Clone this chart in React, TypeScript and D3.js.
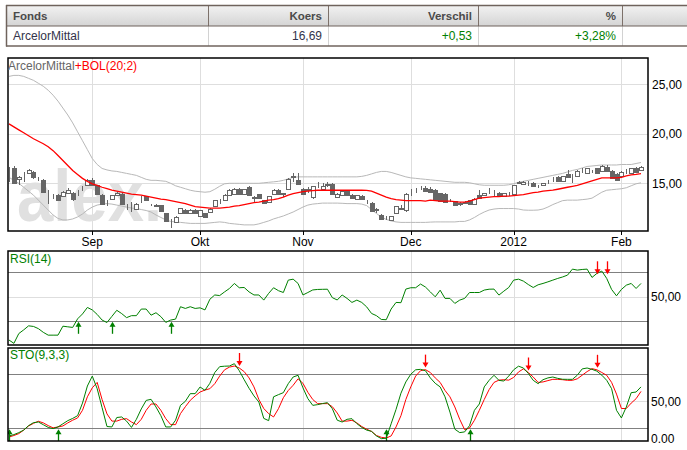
import React from 'react';
import * as d3 from 'd3';

// trading days from 9 Aug 2011 up to 7 Feb 2012
const N = 130;

const monthLabels = ['Sep', 'Okt', 'Nov', 'Dec', '2012', 'Feb'];
const monthIndex = [17, 39, 60, 82, 103, 125];

const priceTicks = [25, 20, 15];
const priceTickLabels = ['25,00', '20,00', '15,00'];

const tableHeads = ['Fonds', 'Koers', 'Verschil', '%'];
const tableRow = ['ArcelorMittal', '16,69', '+0,53', '+3,28%'];

const open = [
  16.2, 16.5, 15.4, 16.0, 16.0, 16.15, 15.55, 15.3, 14.05, 13.7,
  13.85, 13.75, 14.0, 14.05, 14.1, 14.5, 14.8, 15.35, 14.8, 13.85,
  13.0, 13.45, 13.8, 13.95, 12.6, 12.9, 12.45, 13.4, 13.7, 12.8,
  12.75, 12.8, 11.95, 11.25, 11.05, 11.95, 12.35, 12.0, 12.35, 11.7,
  11.95, 12.1, 12.7, 13.2, 13.35, 13.8, 13.9, 14.45, 13.9, 14.6,
  13.55, 13.9, 13.3, 13.1, 13.9, 14.35, 13.95, 14.45, 15.65, 15.35,
  14.45, 14.35, 13.6, 14.8, 14.45, 14.85, 14.95, 13.6, 13.8, 14.2,
  13.85, 13.45, 13.7, 13.2, 13.05, 12.35, 11.75, 11.55, 11.25, 11.95,
  12.45, 12.3, 14.1, 14.3, 14.6, 14.55, 14.45, 14.3, 14.0, 13.95,
  13.3, 13.2, 12.95, 13.05, 13.3, 12.95, 13.85, 13.8, 14.1, 14.1,
  14.0, 13.7, 13.95, 13.95, 15.0, 14.95, 14.95, 15.0, 14.7, 14.8,
  15.15, 15.35, 15.65, 15.25, 15.95, 15.65, 15.7, 16.3, 16.05, 16.15,
  16.5, 16.25, 16.65, 16.25, 15.95, 15.7, 16.15, 16.05, 16.5, 16.3,
];
const high = [
  16.6, 16.7, 15.75, 16.15, 16.45, 16.25, 15.65, 15.4, 14.3, 13.9,
  13.95, 14.2, 14.5, 14.15, 14.35, 14.7, 15.4, 15.5, 14.85, 13.9,
  13.3, 13.85, 14.15, 14.0, 12.9, 13.15, 13.05, 13.7, 13.75, 12.9,
  12.95, 12.85, 12.0, 11.4, 11.7, 12.55, 12.45, 12.4, 12.45, 12.35,
  12.0, 12.5, 13.35, 13.45, 13.9, 14.4, 14.5, 14.5, 14.45, 14.7,
  13.75, 13.95, 13.35, 13.75, 14.4, 14.45, 14.05, 15.5, 16.05, 16.0,
  14.5, 14.6, 14.75, 15.1, 15.0, 15.15, 15.05, 14.0, 14.25, 14.3,
  13.95, 13.85, 13.85, 13.35, 13.1, 12.55, 11.85, 11.7, 11.7, 12.75,
  12.8, 14.0, 14.4, 14.5, 14.75, 14.7, 14.6, 14.4, 14.05, 14.0,
  13.45, 13.25, 13.15, 13.25, 13.35, 13.5, 14.3, 14.05, 14.5, 14.35,
  14.1, 14.05, 14.15, 14.85, 15.25, 15.2, 15.2, 15.1, 14.85, 15.05,
  15.3, 15.6, 15.7, 15.75, 16.3, 15.9, 16.3, 16.5, 16.55, 16.3,
  16.55, 16.8, 16.8, 16.3, 16.0, 16.2, 16.4, 16.55, 16.6, 16.75,
];
const low = [
  15.1, 14.9, 14.8, 15.1, 15.9, 15.45, 15.2, 14.0, 12.95, 13.4,
  13.3, 13.6, 13.9, 13.2, 13.75, 14.2, 14.7, 14.8, 13.9, 12.9,
  12.7, 13.3, 13.7, 12.85, 12.3, 12.1, 12.3, 13.0, 13.25, 12.7,
  12.6, 12.15, 11.15, 10.45, 11.0, 11.9, 11.95, 11.9, 11.9, 11.65,
  11.5, 12.05, 12.65, 12.95, 13.3, 13.7, 13.85, 13.85, 13.85, 13.75,
  13.05, 13.5, 12.95, 13.05, 13.85, 13.9, 13.65, 14.4, 15.15, 14.9,
  13.9, 14.0, 13.4, 14.5, 14.4, 14.6, 13.9, 13.5, 13.75, 13.8,
  13.5, 13.4, 13.35, 12.95, 12.2, 12.0, 11.3, 11.3, 11.2, 11.9,
  12.3, 12.15, 13.75, 14.05, 14.3, 14.2, 14.05, 13.3, 13.15, 13.05,
  13.1, 12.75, 12.75, 12.9, 12.9, 12.9, 13.5, 13.7, 13.9, 13.75,
  13.65, 13.65, 13.7, 13.9, 14.9, 14.9, 14.75, 14.65, 14.5, 14.75,
  14.95, 15.1, 15.2, 15.2, 15.6, 15.0, 15.65, 16.0, 16.0, 16.0,
  15.95, 16.2, 16.2, 15.5, 15.3, 15.65, 15.9, 15.95, 16.1, 16.25,
];
const close = [
  16.25, 15.0, 15.6, 16.05, 16.3, 15.6, 15.5, 14.1, 14.0, 13.75,
  13.35, 14.1, 14.35, 13.45, 14.15, 14.55, 15.3, 14.85, 13.95, 12.95,
  13.05, 13.8, 14.05, 12.9, 12.65, 12.95, 12.95, 13.45, 13.3, 12.85,
  12.8, 12.2, 11.2, 11.3, 11.6, 12.5, 12.0, 12.35, 11.95, 12.3,
  11.6, 12.45, 13.3, 13.25, 13.8, 14.35, 14.45, 13.9, 14.4, 13.8,
  13.6, 13.55, 13.0, 13.7, 14.35, 13.95, 14.0, 15.45, 15.7, 14.95,
  13.95, 14.4, 14.7, 14.85, 14.7, 14.9, 13.95, 13.95, 14.2, 13.85,
  13.55, 13.8, 13.4, 13.25, 12.25, 12.4, 11.35, 11.6, 11.65, 12.7,
  12.5, 13.95, 14.15, 14.35, 14.65, 14.2, 14.1, 13.35, 13.2, 13.1,
  13.3, 12.8, 13.0, 13.1, 12.95, 13.45, 13.55, 14.0, 14.1, 14.15,
  13.7, 14.0, 13.95, 14.8, 15.15, 15.1, 14.95, 14.7, 14.7, 15.0,
  15.15, 15.35, 15.25, 15.7, 15.65, 15.65, 16.25, 16.3, 16.5, 16.15,
  16.0, 16.7, 16.25, 15.55, 15.35, 16.15, 16.15, 16.5, 16.16, 16.69,
];

// Bollinger (20;2)
const bolUpper = [
  25.8, 25.9, 25.9, 25.8, 25.6, 25.4, 25.1, 24.8, 24.4, 23.9,
  23.3, 22.6, 21.9, 21.1, 20.2, 19.3, 18.4, 17.5, 16.9, 16.5,
  16.35, 16.25, 16.2, 16.1, 16.0, 15.9, 15.8, 15.6, 15.4, 15.3,
  15.3, 15.25, 15.2, 15.0, 14.75, 14.6, 14.45, 14.3, 14.2, 14.15,
  14.1, 14.15, 14.4, 14.7, 14.95, 15.0, 15.0, 15.0, 15.0, 15.0,
  15.0, 15.0, 15.05, 15.1, 15.15, 15.2, 15.3, 15.45, 15.6, 15.65,
  15.65, 15.65, 15.65, 15.65, 15.65, 15.65, 15.65, 15.65, 15.65, 15.65,
  15.65, 15.65, 15.7, 15.8, 15.95, 16.1, 16.2, 16.2, 16.1, 15.95,
  15.8, 15.65, 15.55, 15.5, 15.45, 15.4, 15.35, 15.3, 15.25, 15.2,
  15.15, 15.1, 15.1, 15.1, 15.05, 14.95, 14.85, 14.8, 14.8, 14.8,
  14.8, 14.8, 14.85, 14.95, 15.1, 15.2, 15.3, 15.4, 15.5, 15.6,
  15.7, 15.8, 15.9, 16.0, 16.15, 16.3, 16.4, 16.55, 16.7, 16.75,
  16.8, 16.85, 16.85, 16.85, 16.85, 16.9, 16.9, 16.9, 17.0, 17.1,
];
const bolMiddle = [
  21.0, 20.7, 20.4, 20.1, 19.8, 19.5, 19.25, 19.0, 18.7, 18.3,
  17.8, 17.3, 16.8, 16.3, 15.9, 15.5, 15.2, 14.95, 14.8, 14.6,
  14.45, 14.3, 14.2, 14.1, 14.0, 13.9, 13.85, 13.8, 13.7, 13.6,
  13.5, 13.4, 13.35, 13.25, 13.15, 13.05, 12.95, 12.8, 12.65, 12.6,
  12.55, 12.5, 12.5, 12.5, 12.55, 12.6, 12.7, 12.75, 12.85, 12.95,
  13.05, 13.1, 13.2, 13.3, 13.35, 13.45, 13.6, 13.8, 13.95, 14.05,
  14.15, 14.2, 14.25, 14.3, 14.3, 14.3, 14.3, 14.3, 14.3, 14.3,
  14.3, 14.3, 14.3, 14.28, 14.2, 14.0, 13.8, 13.6, 13.45, 13.35,
  13.3, 13.25, 13.25, 13.25, 13.25, 13.2, 13.3, 13.25, 13.2, 13.2,
  13.2, 13.15, 13.1, 13.1, 13.2, 13.35, 13.5, 13.55, 13.6, 13.65,
  13.65, 13.7, 13.7, 13.75, 13.8, 13.85, 13.95, 14.05, 14.1, 14.2,
  14.25, 14.3, 14.4, 14.5, 14.6, 14.7, 14.8, 14.95, 15.1, 15.25,
  15.4, 15.55, 15.55, 15.55, 15.55, 15.6, 15.75, 15.85, 15.9, 15.98,
];
const bolLower = [
  15.6, 15.3, 15.0, 14.6, 14.2, 13.8, 13.3, 12.8, 12.3, 11.8,
  11.45, 11.3, 11.3, 11.4, 11.6, 11.9, 12.3, 12.6, 12.8, 12.9,
  12.95, 12.9, 12.8, 12.7, 12.6, 12.5, 12.45, 12.35, 12.25, 12.1,
  11.8, 11.55, 11.3, 11.15, 11.1, 11.05, 11.0, 10.95, 10.95, 10.95,
  10.95, 11.0, 11.05, 11.1, 11.05, 10.95, 10.9, 10.85, 10.8, 10.8,
  10.8, 10.9, 11.05, 11.2, 11.4, 11.55, 11.7, 11.9, 12.1, 12.35,
  12.6, 12.8, 12.9, 12.95, 13.0, 13.0, 13.0, 13.0, 12.98, 12.95,
  12.95, 12.95, 12.9, 12.75, 12.35, 11.95, 11.6, 11.35, 11.2, 11.1,
  11.05, 11.05, 11.05, 11.05, 11.05, 11.05, 11.08, 11.1, 11.1, 11.1,
  11.1, 11.1, 11.15, 11.15, 11.3, 11.55, 11.85, 12.1, 12.3, 12.4,
  12.45, 12.45, 12.45, 12.45, 12.4, 12.3, 12.28, 12.28, 12.3, 12.4,
  12.6, 12.85, 13.05, 13.25, 13.3, 13.3, 13.3, 13.35, 13.4, 13.5,
  13.8, 14.1, 14.3, 14.35, 14.4, 14.45, 14.55, 14.75, 14.95, 15.05,
];

// RSI(14)
const rsi = [
  14.7, 12, 20, 23, 26.3, 25.8, 24, 21, 18.7, 18.7,
  18.7, 26, 25.5, 25, 32, 36, 41.3, 39.3, 35.6, 31,
  29, 34, 39, 36.3, 33, 34.6, 34.6, 40, 40, 35,
  37, 33.8, 29.1, 31, 31.8, 41.9, 40.5, 41.9, 40.5, 41,
  39.3, 48, 51.5, 51, 54, 56.8, 60.9, 57.4, 57.6, 54,
  51.5, 51.5, 47.3, 52.8, 57.4, 55, 53.5, 63.6, 64.4, 60.9,
  51.5, 53.5, 55.6, 56, 56.1, 56.2, 49.3, 47.4, 51.5, 48.7,
  45.4, 47.3, 45.4, 41.8, 36.4, 34.6, 31.5, 31.3, 40, 45.4,
  45.2, 56.3, 57.4, 57.4, 60.4, 58, 54, 50, 55.4, 48.7,
  48.7, 44.6, 47.3, 48.7, 53.5, 53.5, 53.5, 55.5, 56.2, 56.3,
  51.4, 54.6, 57.6, 63.6, 64.4, 62.8, 60, 57.6, 59.8, 60.9,
  62.2, 63.6, 65, 66.2, 67.7, 72.6, 71.8, 72.3, 72.6, 65.8,
  69.1, 71, 65, 56, 50.8, 56, 59.5, 60.9, 56.8, 60.9,
];
const rsiBuy = [14, 21, 33];
const rsiSell = [120, 122];

// STO(9,3,3)
const stoK = [
  11.5, 13, 15.2, 18, 23, 26.3, 27, 24, 21, 19.6,
  21.5, 25, 28.5, 31, 34, 48, 67, 78, 64, 43,
  22, 21.5, 32, 32.6, 28, 21, 30, 41.5, 51, 52.2,
  43.7, 34, 21.5, 21.5, 29, 45.5, 50, 58.5, 58.5, 65.9,
  62.2, 70, 82, 88.5, 89, 89.2, 91.8, 84, 74, 64.5,
  56, 49.2, 31, 28.5, 55, 57.4, 59.6, 69.6, 77, 78.9,
  65, 53, 45.5, 46.3, 47.5, 48.5, 41.8, 29, 27, 30,
  30.7, 25.2, 21, 18, 16.6, 11.5, 8.5, 9, 25, 41,
  59, 71.5, 80, 85, 85.5, 84, 76, 70, 66, 55,
  38, 19, 15.2, 16, 23, 40, 47, 66, 73.3, 78.9,
  73.3, 72.5, 78, 85, 89, 87, 81, 73.3, 69.6, 74,
  76, 77, 75.5, 74.5, 74.4, 74.4, 79, 86, 87, 85.5,
  83.5, 79, 73.3, 64, 40, 31.5, 43.7, 59.6, 60.3, 66,
];
const stoD = [
  10.3, 12, 14.1, 18, 22.6, 25.5, 27.8, 26, 23, 20.5,
  21.5, 22.6, 26, 29, 31.5, 40, 55, 65, 71, 52,
  36, 28, 28, 30, 30.7, 27, 24.1, 30, 40, 47,
  47, 40, 30.7, 24.1, 24.1, 36.3, 44, 51.1, 56, 60.3,
  62.5, 64, 69.6, 78, 85, 88, 89.2, 87, 83, 76,
  66, 52, 42, 36.3, 32.6, 41.8, 54, 62, 67.8, 75,
  70, 60, 52, 47.4, 47.4, 47.4, 44, 37, 28, 28,
  28.9, 26, 22, 19, 16.5, 12, 10, 9.2, 11.5, 21.5,
  34, 52, 66, 78, 84, 85.2, 82, 76, 71, 62,
  55, 43.7, 30, 18.5, 20.3, 28.9, 40, 52, 63, 71,
  73.5, 74, 73.5, 76.5, 82.6, 86, 82, 77, 71, 71.5,
  73, 74.4, 74.4, 74, 73.3, 73.3, 75, 79, 83, 86.3,
  85, 82, 78.9, 71, 58, 42, 42, 48, 52.9, 61,
];
const stoBuy = [0, 10, 77, 94];
const stoSell = [47, 85, 106, 120];

const rsiTicks = [50];
const rsiTickLabels = ['50,00'];
const stoTicks = [50, 0];
const stoTickLabels = ['50,00', '0.00'];

const W = 687;
const H = 450;
const LEFT = 8;
const RIGHT = 648;
const MAIN = { top: 58, bottom: 231 };
const RSI = { top: 251, bottom: 345 };
const STO = { top: 348, bottom: 441 };

const FONT = '"Liberation Sans", Arial, sans-serif';
const GREEN = '#008000';
const RED = '#ff0000';
const CANDLE = '#666666';

const colEdges = [7, 208, 328, 478, 622];

const crisp = (v: number) => Math.round(v) + 0.5;

const UpArrow = ({ cx, tip }: { cx: number; tip: number }) => (
  <g>
    <line x1={cx} x2={cx} y1={tip + 3} y2={tip + 12} stroke={GREEN} strokeWidth={1.3} />
    <path d={`M${cx},${tip} L${cx - 3},${tip + 5} L${cx + 3},${tip + 5} Z`} fill={GREEN} />
  </g>
);

const DownArrow = ({ cx, tip }: { cx: number; tip: number }) => (
  <g>
    <line x1={cx} x2={cx} y1={tip - 13} y2={tip - 3} stroke={RED} strokeWidth={1.3} />
    <path d={`M${cx},${tip} L${cx - 3},${tip - 5} L${cx + 3},${tip - 5} Z`} fill={RED} />
  </g>
);

const App: React.FC = () => {
  const x = d3.scaleLinear().domain([0, N - 1]).range([9, 641]);
  const yMain = d3.scaleLinear().domain([15, 25]).range([183.3, 84.3]);
  const yRsi = d3.scaleLinear().domain([30, 70]).range([321.3, 272.3]);
  const ySto = d3.scaleLinear().domain([20, 80]).range([428.3, 374.3]);

  const lineOf = (scale: d3.ScaleLinear<number, number>) =>
    d3.line<number>().x((_, i) => x(i)).y(d => scale(d));

  const mainLine = lineOf(yMain);
  const rsiLine = lineOf(yRsi);
  const stoLine = lineOf(ySto);

  const vGrid = (top: number, bottom: number) =>
    monthIndex.map((mi, k) => (
      <line key={k} x1={crisp(x(mi))} x2={crisp(x(mi))} y1={top} y2={bottom} stroke="#dedede" />
    ));

  const candles = open.map((o, i) => {
    const c = close[i];
    const cx = Math.round(x(i));
    const top = Math.round(yMain(Math.max(o, c)));
    const bot = Math.round(yMain(Math.min(o, c)));
    const down = c < o;
    return (
      <g key={i}>
        <line x1={cx + 0.5} x2={cx + 0.5} y1={Math.round(yMain(high[i]))} y2={Math.round(yMain(low[i]))} stroke={CANDLE} />
        <rect
          x={cx - 1.5}
          y={top + 0.5}
          width={4}
          height={Math.max(bot - top, 0)}
          fill={down ? CANDLE : '#ffffff'}
          stroke={CANDLE}
        />
      </g>
    );
  });

  return (
    <svg
      width={W}
      height={H}
      style={{ position: 'absolute', left: 0, top: 0, background: '#fff' }}
      fontFamily={FONT}
    >
      <defs>
        <linearGradient id="hdr" x1="0" y1="0" x2="0" y2="1">
          <stop offset="0" stopColor="#f3f3f3" />
          <stop offset="1" stopColor="#d4d4d4" />
        </linearGradient>
        <clipPath id="clipMain">
          <rect x={LEFT} y={MAIN.top} width={RIGHT - LEFT} height={MAIN.bottom - MAIN.top} />
        </clipPath>
        <clipPath id="clipRsi">
          <rect x={LEFT} y={RSI.top} width={RIGHT - LEFT} height={RSI.bottom - RSI.top} />
        </clipPath>
        <clipPath id="clipSto">
          <rect x={LEFT} y={STO.top} width={RIGHT - LEFT} height={STO.bottom - STO.top} />
        </clipPath>
      </defs>

      {/* quote table */}
      <rect x={7} y={5} width={W} height={21} fill="url(#hdr)" />
      <rect x={7} y={26} width={W} height={20} fill="#fff" />
      {colEdges.slice(1).map((cx, k) => (
        <g key={k}>
          <line x1={cx + 0.5} x2={cx + 0.5} y1={5} y2={26} stroke="#7d716a" />
          <line x1={cx + 0.5} x2={cx + 0.5} y1={26} y2={46} stroke="#d2d2d2" />
        </g>
      ))}
      <line x1={6} x2={W} y1={5.5} y2={5.5} stroke="#6f635c" strokeWidth={1.5} />
      <line x1={6} x2={W} y1={26} y2={26} stroke="#6f635c" strokeWidth={1.2} />
      <line x1={6} x2={W} y1={46} y2={46} stroke="#6f635c" strokeWidth={1.5} />
      <line x1={6.5} x2={6.5} y1={5} y2={46.5} stroke="#6f635c" strokeWidth={1.5} />
      {tableHeads.map((t, k) => (
        <text
          key={k}
          x={k === 0 ? 13 : colEdges[k + 1] - 6}
          y={20}
          textAnchor={k === 0 ? 'start' : 'end'}
          fontSize={11.5}
          fontWeight="bold"
          fill="#4a4a4a"
        >
          {t}
        </text>
      ))}
      {tableRow.map((t, k) => (
        <text
          key={k}
          x={k === 0 ? 13 : colEdges[k + 1] - 6}
          y={40}
          textAnchor={k === 0 ? 'start' : 'end'}
          fontSize={12}
          fill={k >= 2 ? GREEN : '#33334a'}
        >
          {t}
        </text>
      ))}

      {/* main price panel */}
      {vGrid(MAIN.top, MAIN.bottom)}
      {priceTicks.map((v, k) => (
        <line key={k} x1={LEFT} x2={RIGHT} y1={crisp(yMain(v))} y2={crisp(yMain(v))} stroke="#dedede" />
      ))}
      <text
        x={17}
        y={221}
        fontSize={72}
        fontWeight="bold"
        fill="#e0e0e0"
        textLength={145}
        lengthAdjust="spacingAndGlyphs"
      >
        alex.
      </text>
      <g clipPath="url(#clipMain)">
        <path d={mainLine(bolUpper) || ''} fill="none" stroke="#b8b8b8" strokeWidth={1} />
        <path d={mainLine(bolLower) || ''} fill="none" stroke="#b8b8b8" strokeWidth={1} />
        <g shapeRendering="crispEdges">{candles}</g>
        <path d={mainLine(bolMiddle) || ''} fill="none" stroke={RED} strokeWidth={1.3} />
      </g>
      <rect x={LEFT} y={MAIN.top} width={RIGHT - LEFT} height={MAIN.bottom - MAIN.top} fill="none" stroke="#000" strokeWidth={1.5} />
      <text x={8} y={70} fontSize={12}>
        <tspan fill="#666">ArcelorMittal</tspan>
        <tspan fill={RED}>+BOL(20;2)</tspan>
      </text>
      {priceTicks.map((v, k) => (
        <text key={k} x={652} y={yMain(v)} dy="0.36em" fontSize={12} fill="#000">
          {priceTickLabels[k]}
        </text>
      ))}
      {monthIndex.map((mi, k) => (
        <g key={k}>
          <line x1={crisp(x(mi))} x2={crisp(x(mi))} y1={MAIN.bottom} y2={MAIN.bottom + 4} stroke="#000" />
          <text x={x(mi)} y={246} textAnchor="middle" fontSize={12} fill="#000">
            {monthLabels[k]}
          </text>
        </g>
      ))}

      {/* RSI panel */}
      {vGrid(RSI.top, RSI.bottom)}
      {rsiTicks.map((v, k) => (
        <line key={k} x1={LEFT} x2={RIGHT} y1={crisp(yRsi(v))} y2={crisp(yRsi(v))} stroke="#dedede" />
      ))}
      {[70, 30].map(v => (
        <line key={v} x1={LEFT} x2={RIGHT} y1={crisp(yRsi(v))} y2={crisp(yRsi(v))} stroke="#808080" strokeWidth={1.2} />
      ))}
      <g clipPath="url(#clipRsi)">
        <path d={rsiLine(rsi) || ''} fill="none" stroke={GREEN} strokeWidth={1} />
        {rsiBuy.map(i => (
          <UpArrow key={i} cx={crisp(x(i))} tip={yRsi(30) + 0.5} />
        ))}
        {rsiSell.map(i => (
          <DownArrow key={i} cx={crisp(x(i))} tip={yRsi(70) + 2} />
        ))}
      </g>
      <rect x={LEFT} y={RSI.top} width={RIGHT - LEFT} height={RSI.bottom - RSI.top} fill="none" stroke="#000" strokeWidth={1.5} />
      <text x={10} y={263} fontSize={12} fill={GREEN}>RSI(14)</text>
      {rsiTicks.map((v, k) => (
        <text key={k} x={651} y={yRsi(v)} dy="0.36em" fontSize={12} fill="#000">
          {rsiTickLabels[k]}
        </text>
      ))}

      {/* STO panel */}
      {vGrid(STO.top, STO.bottom)}
      <line x1={LEFT} x2={RIGHT} y1={crisp(ySto(50))} y2={crisp(ySto(50))} stroke="#dedede" />
      {[80, 20].map(v => (
        <line key={v} x1={LEFT} x2={RIGHT} y1={crisp(ySto(v))} y2={crisp(ySto(v))} stroke="#808080" strokeWidth={1.2} />
      ))}
      <g clipPath="url(#clipSto)">
        <path d={stoLine(stoD) || ''} fill="none" stroke={RED} strokeWidth={1} />
        <path d={stoLine(stoK) || ''} fill="none" stroke={GREEN} strokeWidth={1} />
        {stoBuy.map(i => (
          <UpArrow key={i} cx={crisp(x(i))} tip={ySto(20) + 1} />
        ))}
        {stoSell.map(i => (
          <DownArrow key={i} cx={crisp(x(i))} tip={ySto(Math.max(stoK[i], stoD[i])) - 2} />
        ))}
      </g>
      <rect x={LEFT} y={STO.top} width={RIGHT - LEFT} height={STO.bottom - STO.top} fill="none" stroke="#000" strokeWidth={1.5} />
      <text x={10} y={359} fontSize={12} fill={GREEN}>STO(9,3,3)</text>
      {stoTicks.map((v, k) => (
        <text key={k} x={651} y={Math.min(ySto(v), 439)} dy="0.36em" fontSize={12} fill="#000">
          {stoTickLabels[k]}
        </text>
      ))}
    </svg>
  );
};

export default App;
